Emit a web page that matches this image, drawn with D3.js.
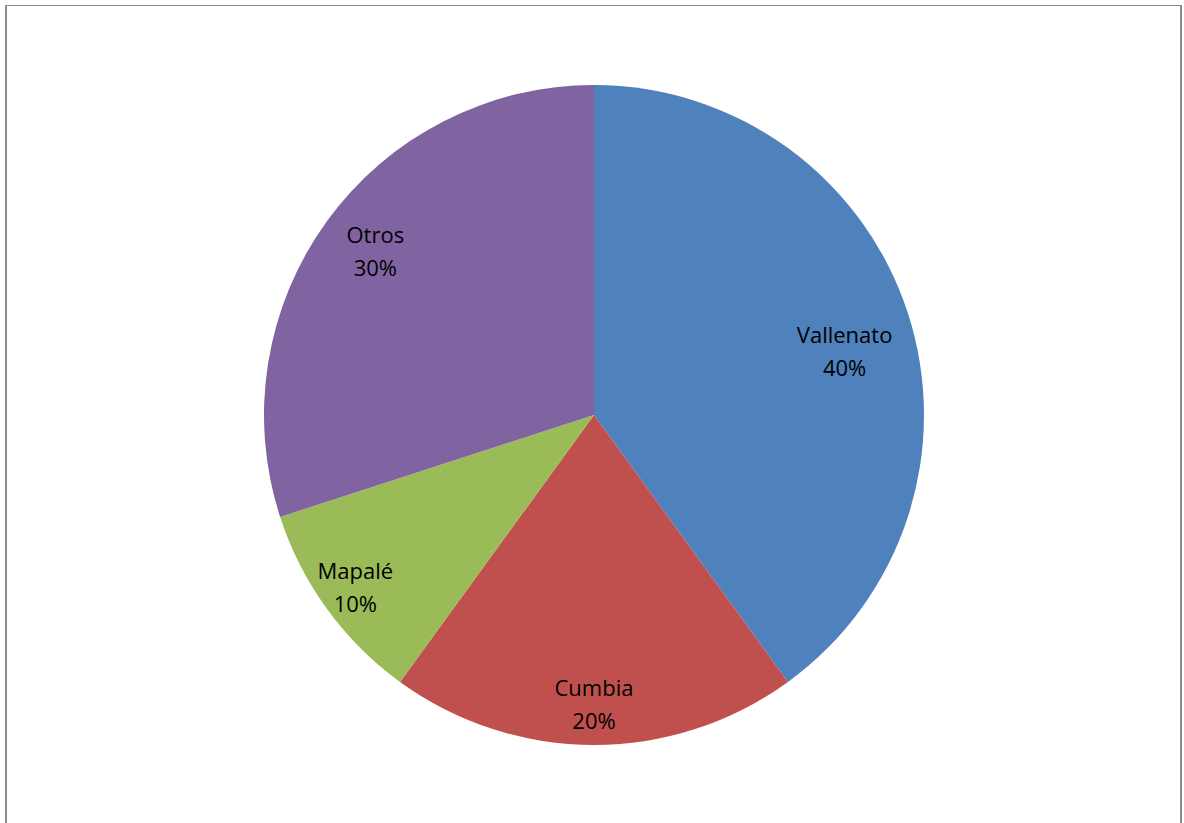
<!DOCTYPE html>
<html>
<head>
<meta charset="utf-8">
<script src="https://cdn.jsdelivr.net/npm/d3@7"></script>
<style>
  html, body { margin: 0; padding: 0; background: #fff; }
  svg { display: block; }
</style>
</head>
<body>
<svg id="chart" width="1184" height="823"></svg>
<script>
// ---- data ----
const categories = ["Vallenato", "Cumbia", "Mapalé", "Otros"];
const values = [40, 20, 10, 30];
const percentLabels = ["40%", "20%", "10%", "30%"];
const colors = ["#4F81BD", "#C0504D", "#9BBB59", "#8064A2"];

// ---- layout (styling, not data) ----
const W = 1184, H = 823;
const cx = 594, cy = 415, R = 330;
const labelR = 274;
const labelNudge = { "Vallenato": [-10, 22], "Cumbia": [0, 16], "Mapalé": [-17, 12], "Otros": [3, -2] };

const svg = d3.select("#chart");

// frame
svg.append("line").attr("x1", 5).attr("x2", 1182).attr("y1", 5.5).attr("y2", 5.5)
  .attr("stroke", "#8c8c8c").attr("stroke-width", 1);
svg.append("line").attr("x1", 6).attr("x2", 6).attr("y1", 5).attr("y2", H)
  .attr("stroke", "#8c8c8c").attr("stroke-width", 2);
svg.append("line").attr("x1", 1181).attr("x2", 1181).attr("y1", 5).attr("y2", H)
  .attr("stroke", "#8c8c8c").attr("stroke-width", 2);

const data = categories.map((c, i) => ({ name: c, value: values[i], pct: percentLabels[i], color: colors[i] }));

const pie = d3.pie().value(d => d.value).sort(null);
const arcs = pie(data);
const arc = d3.arc().innerRadius(0).outerRadius(R);
const labelArc = d3.arc().innerRadius(labelR).outerRadius(labelR);

const g = svg.append("g").attr("transform", `translate(${cx},${cy})`);

g.selectAll("path.slice").data(arcs).enter().append("path")
  .attr("class", "slice")
  .attr("d", arc)
  .attr("fill", d => d.data.color)
  .attr("stroke", "none");

const labels = g.selectAll("text.lbl").data(arcs).enter().append("text")
  .attr("class", "lbl")
  .attr("transform", d => {
    const [x, y] = labelArc.centroid(d);
    const n = labelNudge[d.data.name] || [0, 0];
    return `translate(${x + n[0]},${y + n[1]})`;
  })
  .attr("text-anchor", "middle")
  .attr("font-family", "'Open Sans', 'Liberation Sans', sans-serif")
  .attr("font-size", 22)
  .attr("fill", "#000");

labels.append("tspan").attr("x", 0).attr("y", -9).text(d => d.data.name);
labels.append("tspan").attr("x", 0).attr("y", 24).text(d => d.data.pct);
</script>
</body>
</html>
